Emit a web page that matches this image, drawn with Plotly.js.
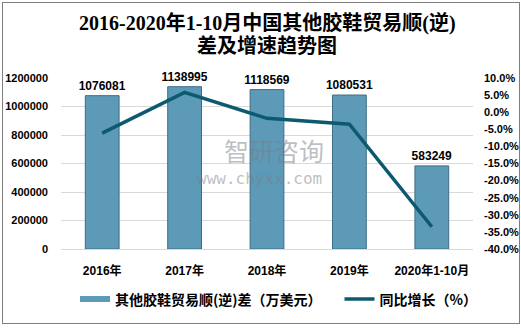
<!DOCTYPE html>
<html><head><meta charset="utf-8">
<script src="https://cdn.plot.ly/plotly-3.0.1.min.js"></script>
<style>
html,body{margin:0;padding:0;background:#fff;}
#wrap{position:relative;width:521px;height:328px;}
#chart{width:521px;height:328px;}
#frame{position:absolute;left:2px;top:2px;width:516px;height:320px;border:1px solid #7f7f7f;pointer-events:none;}
</style></head>
<body>
<div id="wrap"><div id="chart"></div><div id="frame"></div></div>
<script>
const categories = ['2016年', '2017年', '2018年', '2019年', '2020年1-10月'];
const balance = [1076081, 1138995, 1118569, 1080531, 583249];
const growth = [-6.1, 5.8, -1.8, -3.5, -33.5];
const balanceName = '其他胶鞋贸易顺(逆)差（万美元）';
const growthName = '同比增长（%）';
const titleLines = ['2016-2020年1-10月中国其他胶鞋贸易顺(逆)', '差及增速趋势图'];
const leftTicks = [0, 200000, 400000, 600000, 800000, 1000000, 1200000];
const rightTicks = [-40, -35, -30, -25, -20, -15, -10, -5, 0, 5, 10];

const latin = '"Liberation Sans", Arial, "Noto Sans CJK SC", sans-serif';
const barColor = '#5c9ab8';
const lineColor = '#0d5a70';

const traces = [
  {
    type: 'bar', x: categories, y: balance, name: balanceName,
    width: 0.41, showlegend: false,
    marker: {color: barColor, line: {color: '#3e6e84', width: 1}},
    text: balance.map(String), textposition: 'outside', cliponaxis: false,
    constraintext: 'none',
    textfont: {family: latin, size: 12, color: '#000', weight: 'bold'},
    hoverinfo: 'skip'
  },
  {
    type: 'scatter', mode: 'lines', x: categories, y: growth, name: growthName,
    yaxis: 'y2', showlegend: false,
    line: {color: lineColor, width: 3.5},
    hoverinfo: 'skip'
  },
  {
    type: 'scatter', mode: 'lines', x: [null], y: [null], name: balanceName,
    line: {color: barColor, width: 6}, legend: 'legend', hoverinfo: 'skip'
  },
  {
    type: 'scatter', mode: 'lines', x: [null], y: [null], name: growthName,
    yaxis: 'y2',
    line: {color: lineColor, width: 3.5}, legend: 'legend2', hoverinfo: 'skip'
  }
];

const legendFont = {family: '"Noto Sans CJK SC", sans-serif', size: 14, color: '#000', weight: 'bold'};

const layout = {
  width: 521, height: 328,
  margin: {l: 61, r: 48, t: 78, b: 76},
  paper_bgcolor: '#fff', plot_bgcolor: '#fff',
  showlegend: true,
  xaxis: {
    type: 'category', showgrid: false, zeroline: false, showline: false,
    ticks: '', tickfont: {family: latin, size: 12, color: '#000', weight: 'bold'},
    ticklabelstandoff: 13
  },
  yaxis: {
    range: [0, 1200000], tickvals: leftTicks, ticktext: leftTicks.map(String),
    showgrid: true, gridcolor: '#d9d9d9', gridwidth: 1,
    zeroline: true, zerolinecolor: '#d9d9d9', zerolinewidth: 1,
    showline: false, ticks: '',
    tickfont: {family: latin, size: 11, color: '#000', weight: 'bold'},
    ticklabelstandoff: 12
  },
  yaxis2: {
    overlaying: 'y', side: 'right', range: [-40, 10],
    tickvals: rightTicks, ticktext: rightTicks.map(v => v.toFixed(1) + '%'),
    showgrid: false, zeroline: false, showline: false, ticks: '',
    tickfont: {family: latin, size: 11, color: '#000', weight: 'bold'},
    ticklabelstandoff: 10
  },
  legend: {
    orientation: 'h', x: 0.034, xanchor: 'left', y: -0.295, yanchor: 'middle',
    font: legendFont, itemwidth: 30
  },
  legend2: {
    orientation: 'h', x: 0.676, xanchor: 'left', y: -0.295, yanchor: 'middle',
    font: legendFont, itemwidth: 30
  },
  annotations: [
    {xref: 'paper', yref: 'paper', x: 0.5, y: 1.322, yanchor: 'middle', text: '<b>' + titleLines[0] + '</b>', showarrow: false,
     font: {family: '"Liberation Serif", "DejaVu Serif", "Noto Sans CJK SC", serif', size: 20, color: '#000'}},
    {xref: 'paper', yref: 'paper', x: 0.5, y: 1.19, yanchor: 'middle', text: '<b>' + titleLines[1] + '</b>', showarrow: false,
     font: {family: '"Liberation Serif", "DejaVu Serif", "Noto Sans CJK SC", serif', size: 20, color: '#000'}},
    {xref: 'paper', yref: 'paper', x: 0.517, y: 0.58, yanchor: 'middle', text: '智研咨询', showarrow: false,
     font: {family: '"Noto Sans CJK SC", sans-serif', size: 25, color: 'rgba(120,125,135,0.5)'}},
    {xref: 'paper', yref: 'paper', x: 0.483, y: 0.415, yanchor: 'middle', text: 'www.chyxx.com', showarrow: false,
     font: {family: '"DejaVu Sans Mono", monospace', size: 16, color: 'rgba(120,125,135,0.5)'}}
  ]
};

Plotly.newPlot('chart', traces, layout, {staticPlot: true, displayModeBar: false});
</script>
</body></html>
